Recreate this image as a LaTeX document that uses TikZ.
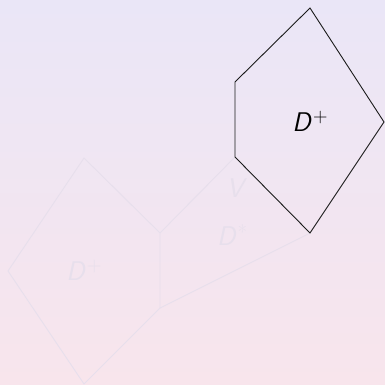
\documentclass[tikz,border=0pt]{standalone}
\usepackage{amsmath}
\definecolor{bgtop}{HTML}{EAE6F7}
\definecolor{bgbot}{HTML}{F8E5EC}
\definecolor{faint}{HTML}{E7DFEC}
\definecolor{ink}{HTML}{1A1A1A}
\newcommand{\suplbl}[3]{\textit{#1}\hspace{2.5pt}\raisebox{#3}{\fontsize{20}{22}\selectfont\rmfamily\upshape #2}}
\begin{document}
\begin{tikzpicture}[x=1pt,y=-1pt,
  solid edge/.style={draw=ink,line width=0.9pt,line join=miter},
  faint edge/.style={draw=faint,line width=0.9pt},
  lbl/.style={font=\fontsize{27}{31}\selectfont\sffamily\itshape,inner sep=0pt},
  faintlbl/.style={lbl,text=faint}]
\useasboundingbox (0,0) rectangle (385,385);
\shade[top color=bgtop,bottom color=bgbot] (0,0) rectangle (385,385);
% faint left region
\coordinate (lt) at (84,158);
\coordinate (lr1) at (160,233);
\coordinate (lr2) at (160,308);
\coordinate (lb) at (84,384);
\coordinate (ll) at (8,271);
\draw[faint edge] (lt) -- (lr1) -- (lr2) -- (lb) -- (ll) -- cycle;
% dark region corners
\coordinate (rt) at (310,8);
\coordinate (rr) at (384,122);
\coordinate (rb) at (310,233);
\coordinate (rl2) at (235,157);
\coordinate (rl1) at (235,82);
% faint connecting edges
\draw[faint edge] (lr1) -- (rl2);
\draw[faint edge] (lr2) -- (rb);
\draw[solid edge] (rt) -- (rr) -- (rb) -- (rl2) -- (rl1) -- cycle;
\node[lbl] (dplus) at (310,121) {\suplbl{D}{+}{9pt}};
\node[faintlbl] (dplusfaint) at (84,270) {\suplbl{D}{+}{9pt}};
\node[faintlbl] (vlbl) at (235,188) {V};
\node[faintlbl] (dstar) at (232,235) {\suplbl{D}{*}{6pt}};
\end{tikzpicture}
\end{document}
